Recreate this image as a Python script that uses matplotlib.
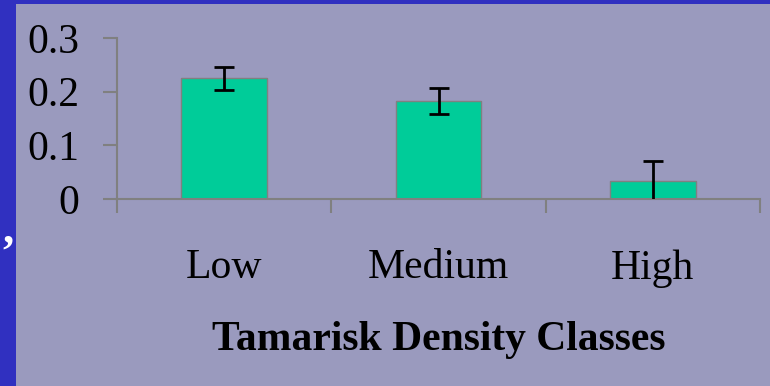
import matplotlib.pyplot as plt
from matplotlib.patches import Rectangle

# --- Data ---
classes = ['Low', 'Medium', 'High']
means = [0.225, 0.183, 0.033]
errors = [0.021, 0.024, 0.038]

bg = '#9a9abe'
border = '#3030c0'
bar_color = '#00cc99'
axis_gray = '#808080'

plt.rcParams['font.family'] = ['Liberation Serif', 'DejaVu Serif']

fig = plt.figure(figsize=(7.70, 3.86), dpi=100)
fig.patch.set_facecolor(border)
# lavender slide area (blue strip left and top)
fig.patches.append(Rectangle((16 / 770, 0), 1, (386 - 4) / 386,
                             transform=fig.transFigure, facecolor=bg,
                             edgecolor='none', zorder=-1))

ax = fig.add_axes([117 / 770, (386 - 199) / 386, (760 - 117) / 770, (199 - 38) / 386])
ax.set_facecolor('none')

x = range(len(classes))
ax.bar(x, means, width=0.4, color=bar_color, edgecolor=axis_gray, linewidth=1.0, zorder=2)
ax.errorbar(x, means, yerr=errors, fmt='none', ecolor='black', elinewidth=2,
            capsize=7, capthick=2, zorder=3)

ax.set_xlim(-0.5, 2.5)
ax.set_ylim(0, 0.3)
ax.set_yticks([0, 0.1, 0.2, 0.3])
ax.set_yticklabels(['0', '0.1', '0.2', '0.3'])

ax.set_xticks(list(x))
ax.set_xticklabels(classes)
ax.set_xticks([-0.5, 0.5, 1.5, 2.5], minor=True)

for s in ['top', 'right']:
    ax.spines[s].set_visible(False)
for s in ['left', 'bottom']:
    ax.spines[s].set_color(axis_gray)
    ax.spines[s].set_linewidth(1.5)

ax.tick_params(axis='y', direction='out', length=10, width=1.5, color=axis_gray,
               labelsize=30, pad=17)
ax.tick_params(axis='x', which='major', length=0, labelsize=30, pad=36)
ax.tick_params(axis='x', which='minor', direction='out', length=10, width=1.5,
               color=axis_gray)

ax.set_xlabel('Tamarisk Density Classes', fontsize=30, fontweight='bold', labelpad=24)

# stray comma on the blue strip
fig.text(2 / 770, 1 - 232 / 386, ',', color='white', fontsize=32, fontweight='bold',
         va='center', ha='left')

fig.savefig('out.png', dpi=100, facecolor=fig.get_facecolor())
